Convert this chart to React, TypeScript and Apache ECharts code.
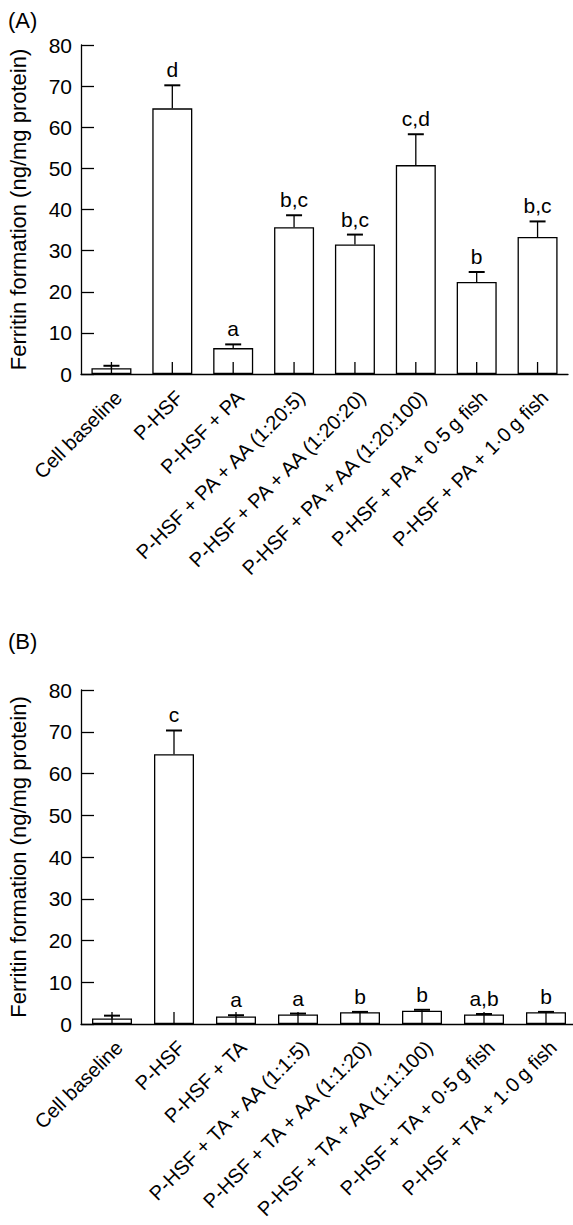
import React, { useEffect, useRef } from "react";
import * as echarts from "echarts";

const categoriesA = [
  "Cell baseline",
  "P-HSF",
  "P-HSF + PA",
  "P-HSF + PA + AA (1:20:5)",
  "P-HSF + PA + AA (1:20:20)",
  "P-HSF + PA + AA (1:20:100)",
  "P-HSF + PA + 0·5\u2009g fish",
  "P-HSF + PA + 1·0\u2009g fish",
];
const valuesA = [1.4, 64.6, 6.3, 35.7, 31.5, 50.8, 22.4, 33.3];
const errorTopA = [2.0, 70.2, 7.2, 38.6, 33.9, 58.3, 24.8, 37.1];
const lettersA = ["", "d", "a", "b,c", "b,c", "c,d", "b", "b,c"];

const categoriesB = [
  "Cell baseline",
  "P-HSF",
  "P-HSF + TA",
  "P-HSF + TA + AA (1:1:5)",
  "P-HSF + TA + AA (1:1:20)",
  "P-HSF + TA + AA (1:1:100)",
  "P-HSF + TA + 0·5\u2009g fish",
  "P-HSF + TA + 1·0\u2009g fish",
];
const valuesB = [1.3, 64.6, 1.8, 2.3, 2.8, 3.2, 2.3, 2.8];
const errorTopB = [2.0, 70.3, 2.1, 2.5, 2.9, 3.4, 2.4, 2.9];
const lettersB = ["", "c", "a", "a", "b", "b", "a,b", "b"];

const yTicks = { min: 0, max: 80, interval: 10 };
const yTitle = "Ferritin formation (ng/mg protein)";
const panelLabels = ["(A)", "(B)"];

const FONT = '"Liberation Sans", Arial, Helvetica, sans-serif';
const FS = 21;
const FS_CAT = 20;
const FS_TITLE = 22;

function makeXAxis(gridIndex: number, data: string[]) {
  return {
    type: "category",
    gridIndex,
    data,
    z: 5,
    axisLine: { show: true, lineStyle: { color: "#000", width: 1.3 } },
    axisTick: { show: false },
    axisLabel: {
      rotate: 45,
      interval: 0,
      fontSize: FS_CAT,
      fontFamily: FONT,
      color: "#000",
      margin: 13,
      verticalAlign: "top",
    },
    splitLine: { show: false },
  };
}

function makeYAxis(gridIndex: number) {
  return {
    type: "value",
    gridIndex,
    min: yTicks.min,
    max: yTicks.max,
    interval: yTicks.interval,
    z: 5,
    axisLine: { show: true, lineStyle: { color: "#000", width: 1.3 } },
    axisTick: { show: true, inside: true, length: 13, lineStyle: { color: "#000", width: 1.3 } },
    splitLine: { show: false },
    axisLabel: { fontSize: FS, fontFamily: FONT, color: "#000", margin: 9 },
    name: yTitle,
    nameLocation: "middle",
    nameGap: 52,
    nameTextStyle: { fontSize: FS_TITLE, fontFamily: FONT, color: "#000" },
  };
}

function makeRender(letters: string[]) {
  return (params: any, api: any) => {
    const i = api.value(0);
    const base = api.coord([i, 0]);
    const top = api.coord([i, api.value(1)]);
    const e = api.coord([i, api.value(2)]);
    return {
      type: "group",
      children: [
        {
          type: "line",
          shape: { x1: base[0], y1: base[1], x2: base[0], y2: base[1] - 12 },
          style: { stroke: "#000", lineWidth: 1.3 },
        },
        {
          type: "line",
          shape: { x1: top[0], y1: top[1], x2: e[0], y2: e[1] },
          style: { stroke: "#000", lineWidth: 1.3 },
        },
        {
          type: "line",
          shape: { x1: e[0] - 8, y1: e[1], x2: e[0] + 8, y2: e[1] },
          style: { stroke: "#000", lineWidth: 2 },
        },
        {
          type: "text",
          x: e[0],
          y: e[1] - 5,
          style: {
            text: letters[params.dataIndex],
            font: `${FS}px ${FONT}`,
            fill: "#000",
            align: "center",
            verticalAlign: "bottom",
            textAlign: "center",
            textVerticalAlign: "bottom",
          },
        },
      ],
    };
  };
}

function makeBar(idx: number, values: number[]) {
  return {
    type: "bar",
    xAxisIndex: idx,
    yAxisIndex: idx,
    data: values,
    barWidth: 40,
    itemStyle: { color: "rgba(255,255,255,0)", borderColor: "#000", borderWidth: 1.3 },
    z: 2,
  };
}

function makeErr(idx: number, values: number[], tops: number[], letters: string[]) {
  return {
    type: "custom",
    xAxisIndex: idx,
    yAxisIndex: idx,
    data: values.map((v, i) => [i, v, tops[i]]),
    encode: { x: 0, y: [1, 2] },
    renderItem: makeRender(letters),
    clip: false,
    z: 6,
  };
}

export default function App() {
  const ref = useRef<HTMLDivElement>(null);
  useEffect(() => {
    if (!ref.current) return;
    const chart = echarts.init(ref.current, null, { renderer: "svg" });
    chart.setOption({
      animation: false,
      backgroundColor: "#fff",
      graphic: [
        { type: "text", left: 8, top: 9, style: { text: panelLabels[0], font: `${FS_TITLE}px ${FONT}`, fill: "#000" } },
        { type: "text", left: 8, top: 630, style: { text: panelLabels[1], font: `${FS_TITLE}px ${FONT}`, fill: "#000" } },
      ],
      grid: [
        { left: 81, top: 45, width: 487, height: 329, containLabel: false, outerBoundsMode: "none" },
        { left: 81, top: 690, width: 496, height: 334, containLabel: false, outerBoundsMode: "none" },
      ],
      xAxis: [makeXAxis(0, categoriesA), makeXAxis(1, categoriesB)],
      yAxis: [makeYAxis(0), makeYAxis(1)],
      series: [
        makeBar(0, valuesA),
        makeErr(0, valuesA, errorTopA, lettersA),
        makeBar(1, valuesB),
        makeErr(1, valuesB, errorTopB, lettersB),
      ],
    });
    return () => chart.dispose();
  }, []);
  return (
    <div
      ref={ref}
      style={{ position: "absolute", left: 0, top: 0, width: 573, height: 1225, background: "#fff" }}
    />
  );
}
